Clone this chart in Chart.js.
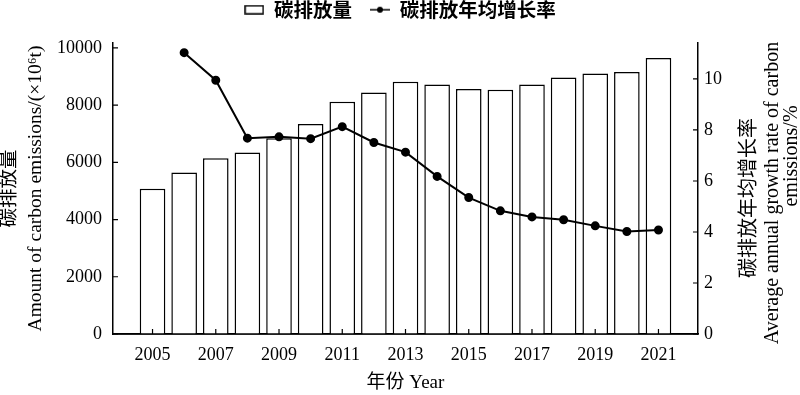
<!DOCTYPE html>
<html>
<head>
<meta charset="utf-8">
<script src="https://cdn.jsdelivr.net/npm/chart.js@4.4.0/dist/chart.umd.min.js"></script>
<style>
html, body { margin: 0; padding: 0; background: #fff; }
</style>
</head>
<body>
<canvas id="myChart" width="800" height="395"></canvas>
<script>
'use strict';
let years = [2005, 2006, 2007, 2008, 2009, 2010, 2011, 2012, 2013, 2014, 2015, 2016, 2017, 2018, 2019, 2020, 2021];
let emissions = [5080, 5640, 6140, 6340, 6840, 7340, 8120, 8440, 8820, 8720, 8560, 8540, 8720, 8960, 9100, 9160, 9650];
let rateYears = [2006, 2007, 2008, 2009, 2010, 2011, 2012, 2013, 2014, 2015, 2016, 2017, 2018, 2019, 2020, 2021];
let growthRate = [11.03, 9.95, 7.68, 7.73, 7.66, 8.13, 7.51, 7.13, 6.18, 5.35, 4.83, 4.59, 4.48, 4.24, 4.02, 4.08];
let yearTicks = [2005, 2007, 2009, 2011, 2013, 2015, 2017, 2019, 2021];
let emissionTicks = [0, 2000, 4000, 6000, 8000, 10000];
let rateTicks = [0, 2, 4, 6, 8, 10];

let serif = '"Liberation Serif", "Noto Sans CJK SC", serif';
let rateTitle = ['碳排放年均增长率', 'Average annual growth rate of carbon', 'emissions/%'];

function makeIcon(kind) {
    let c = document.createElement('canvas');
    c.width = 20;
    c.height = 10;
    let g = c.getContext('2d');
    g.strokeStyle = '#000';
    g.lineWidth = 1.5;
    if (kind === 'box') {
        g.fillStyle = '#fff';
        g.fillRect(1, 1, 18, 8);
        g.strokeRect(1, 1, 18, 8);
    } else {
        g.beginPath();
        g.moveTo(0, 5);
        g.lineTo(20, 5);
        g.stroke();
        g.fillStyle = '#000';
        g.beginPath();
        g.arc(10, 5, 3, 0, Math.PI * 2);
        g.fill();
    }
    return c;
}

// legend sits higher than chart.js puts it, and chart area starts at y=43
let legendFix = {
    id: 'legendFix',
    beforeInit(chart) {
        let fit = chart.legend.fit;
        chart.legend.fit = function () {
            fit.bind(chart.legend)();
            this.height = 43;
        };
    },
    afterLayout(chart) {
        chart.legend.top = -18;
        chart.legend.bottom = chart.legend.top + chart.legend.height;
    }
};

// tick marks pointing into the plot, plus the base line again (bars cover half of it)
let innerTicks = {
    id: 'innerTicks',
    afterDatasetsDraw(chart) {
        let ctx = chart.ctx;
        let area = chart.chartArea;
        let s = chart.scales;
        ctx.save();
        ctx.strokeStyle = '#000';
        ctx.lineWidth = 1.5;
        ctx.beginPath();
        ctx.moveTo(area.left, area.bottom);
        ctx.lineTo(area.right, area.bottom);
        ctx.stroke();
        ctx.lineWidth = 1.2;
        ctx.beginPath();
        s.y.ticks.forEach(t => {
            let py = s.y.getPixelForValue(t.value);
            ctx.moveTo(area.left, py);
            ctx.lineTo(area.left + 5, py);
        });
        s.y1.ticks.forEach(t => {
            let py = s.y1.getPixelForValue(t.value);
            ctx.moveTo(area.right, py);
            ctx.lineTo(area.right - 5, py);
        });
        s.x.ticks.forEach(t => {
            let px = s.x.getPixelForValue(t.value);
            ctx.moveTo(px, area.bottom);
            ctx.lineTo(px, area.bottom - 5);
        });
        ctx.stroke();
        ctx.restore();
    }
};

// right title reads bottom to top, chart.js would rotate it the other way
let rightTitle = {
    id: 'rightTitle',
    afterDraw(chart) {
        let ctx = chart.ctx;
        let area = chart.chartArea;
        let xs = [area.right + 52, area.right + 75, area.right + 94];
        let ys = [198, 193, 156];
        ctx.save();
        ctx.fillStyle = '#000';
        ctx.textAlign = 'center';
        ctx.textBaseline = 'middle';
        ctx.font = '20px ' + serif;
        for (let i = 0; i < rateTitle.length; i++) {
            ctx.save();
            ctx.translate(xs[i], ys[i]);
            ctx.rotate(-Math.PI / 2);
            ctx.fillText(rateTitle[i], 0, 0);
            ctx.restore();
        }
        ctx.restore();
    }
};

let ctx = document.getElementById('myChart').getContext('2d');
let myChart = new Chart(ctx, {
    type: 'bar',
    data: {
        datasets: [{
            type: 'bar',
            label: '碳排放量',
            data: years.map((yr, i) => ({ x: yr, y: emissions[i] })),
            backgroundColor: '#fff',
            borderColor: '#000',
            borderWidth: 1.5,
            barPercentage: 1,
            categoryPercentage: 0.81,
            yAxisID: 'y',
            order: 1
        }, {
            type: 'line',
            label: '碳排放年均增长率',
            data: rateYears.map((yr, i) => ({ x: yr, y: growthRate[i] })),
            borderColor: '#000',
            backgroundColor: '#000',
            borderWidth: 2,
            pointRadius: 3.5,
            pointBackgroundColor: '#000',
            tension: 0,
            yAxisID: 'y1',
            order: 0
        }]
    },
    options: {
        responsive: false,
        animation: false,
        devicePixelRatio: 1,
        layout: { padding: 0 },
        plugins: {
            tooltip: { enabled: false },
            legend: {
                display: true,
                position: 'top',
                labels: {
                    usePointStyle: true,
                    pointStyleWidth: 20,
                    padding: 18,
                    color: '#000',
                    font: { family: '"Noto Sans CJK SC", sans-serif', size: 19.5, weight: 'bold' },
                    generateLabels(chart) {
                        return chart.data.datasets.map((ds, i) => ({
                            text: ds.label,
                            datasetIndex: i,
                            pointStyle: makeIcon(i === 0 ? 'box' : 'line'),
                            fillStyle: '#fff',
                            strokeStyle: '#000',
                            lineWidth: 0,
                            fontColor: '#000',
                            hidden: false
                        }));
                    }
                }
            }
        },
        scales: {
            x: {
                type: 'linear',
                offset: false,
                min: 2003.75,
                max: 2022.25,
                afterBuildTicks(scale) {
                    scale.ticks = yearTicks.map(v => ({ value: v }));
                },
                afterFit(scale) { scale.height = 61; },
                grid: { display: false, drawTicks: false, offset: false },
                border: { display: true, color: '#000', width: 1.5 },
                ticks: {
                    color: '#000',
                    padding: 10,
                    maxRotation: 0,
                    autoSkip: false,
                    font: { family: serif, size: 18 },
                    callback: v => String(v)
                },
                title: {
                    display: true,
                    text: '年份 Year',
                    color: '#000',
                    font: { family: serif, size: 19 },
                    padding: { top: 0, bottom: 1 }
                }
            },
            y: {
                position: 'left',
                min: 0,
                max: 10170,
                afterBuildTicks(scale) {
                    scale.ticks = emissionTicks.map(v => ({ value: v }));
                },
                afterFit(scale) { scale.width = 113; },
                grid: { display: false, drawTicks: false },
                border: { display: true, color: '#000', width: 1.5 },
                ticks: {
                    color: '#000',
                    padding: 11,
                    font: { family: serif, size: 18 },
                    callback: v => String(v)
                },
                title: {
                    display: true,
                    text: ['碳排放量', 'Amount of carbon emissions/(×10⁶t)'],
                    color: '#000',
                    font: { family: serif, size: 19.5, lineHeight: '26px' },
                    padding: { top: -3, bottom: 0 }
                }
            },
            y1: {
                position: 'right',
                min: 0,
                max: 11.41,
                afterBuildTicks(scale) {
                    scale.ticks = rateTicks.map(v => ({ value: v }));
                },
                afterFit(scale) { scale.width = 102; },
                grid: { display: false, drawTicks: false },
                border: { display: true, color: '#000', width: 1.5 },
                ticks: {
                    color: '#000',
                    padding: 6,
                    font: { family: serif, size: 18 },
                    callback: v => String(v)
                }
            }
        }
    },
    plugins: [legendFix, innerTicks, rightTitle]
});
</script>
</body>
</html>
